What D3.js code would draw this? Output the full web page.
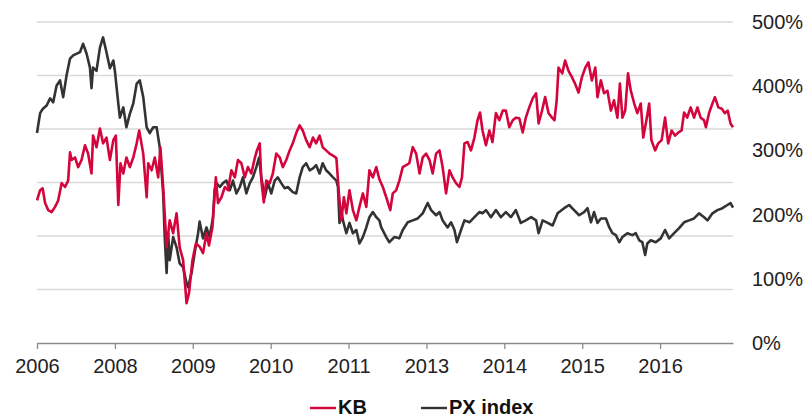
<!DOCTYPE html>
<html>
<head>
<meta charset="utf-8">
<script src="https://cdn.jsdelivr.net/npm/d3@7"></script>
<style>
    body { margin: 0; background: #fff; }
    svg { display: block; font-family: "Liberation Sans", Arial, sans-serif; }
    .tickLabel { font-size: 20px; fill: #222; }
    .keyLabel { font-size: 20px; font-weight: bold; fill: #111; }
</style>
</head>
<body>
<div id="chart"></div>
<script>

// trading day index -> performance in %
const kb = [
    [0,222],[10,238],[18,241],[26,218],[36,207],[47,204],[58,212],[68,222],[79,249],[90,243],
    [100,253],[106,297],[111,285],[122,289],[132,274],[143,285],[154,308],[164,295],[175,264],[180,323],
    [191,305],[202,334],[212,311],[223,320],[234,285],[245,316],[253,323],[261,215],[268,280],[277,264],
    [287,289],[298,274],[309,289],[320,311],[328,331],[341,295],[352,227],[357,280],[368,269],[378,289],
    [389,258],[396,305],[405,243],[416,149],[426,191],[437,171],[448,202],[458,149],[469,129],[480,62],
    [488,78],[499,129],[510,155],[522,150],[533,140],[544,171],[552,152],[563,180],[574,258],[581,218],
    [592,227],[603,243],[613,238],[624,269],[635,258],[645,285],[656,280],[667,258],[677,274],[688,264],
    [699,288],[706,300],[715,311],[720,253],[728,219],[736,253],[747,249],[757,264],[768,295],[779,289],
    [789,274],[800,285],[811,300],[821,311],[832,327],[843,339],[853,331],[864,316],[875,305],[886,320],
    [896,311],[907,323],[917,305],[928,300],[939,295],[950,292],[961,288],[969,233],[977,191],[985,227],
    [993,202],[1003,238],[1014,207],[1025,191],[1035,212],[1046,233],[1057,212],[1067,269],[1078,258],[1089,274],
    [1099,255],[1110,243],[1121,227],[1134,207],[1142,233],[1153,238],[1163,253],[1174,274],[1185,277],[1195,280],
    [1206,305],[1217,295],[1228,264],[1238,289],[1249,295],[1260,285],[1270,264],[1281,295],[1292,300],[1302,274],
    [1313,233],[1324,269],[1334,258],[1345,249],[1356,243],[1364,258],[1372,311],[1382,313],[1393,300],[1404,320],
    [1414,347],[1422,359],[1430,331],[1441,308],[1452,331],[1462,313],[1473,358],[1484,347],[1495,362],[1505,362],
    [1516,336],[1527,347],[1537,351],[1548,350],[1559,328],[1569,351],[1580,367],[1591,381],[1602,389],[1610,342],
    [1621,362],[1631,383],[1642,358],[1653,351],[1661,347],[1668,378],[1674,429],[1686,420],[1695,440],[1706,424],
    [1717,414],[1727,404],[1738,390],[1749,414],[1760,429],[1770,437],[1781,409],[1792,429],[1799,383],[1810,409],
    [1820,389],[1831,393],[1842,362],[1852,378],[1863,351],[1871,404],[1879,351],[1888,362],[1897,420],[1906,393],
    [1917,373],[1927,358],[1938,373],[1946,320],[1956,347],[1965,373],[1972,316],[1984,300],[1994,311],[2005,316],
    [2016,351],[2026,311],[2037,331],[2048,323],[2059,328],[2069,331],[2077,359],[2087,351],[2098,367],[2109,351],
    [2120,367],[2130,351],[2141,347],[2147,336],[2157,358],[2168,373],[2176,383],[2187,367],[2198,365],[2208,358],
    [2217,362],[2226,342],[2234,336]
]

const px = [
    [0,327],[10,358],[19,365],[31,370],[42,381],[52,375],[63,401],[74,409],[84,383],[95,417],
    [106,443],[116,448],[138,453],[148,466],[159,451],[170,429],[175,397],[180,429],[191,424],[202,460],
    [212,476],[223,453],[234,428],[245,440],[250,424],[261,373],[266,351],[277,367],[287,336],[298,357],
    [309,373],[320,404],[330,409],[341,383],[352,336],[362,327],[373,336],[384,336],[394,305],[405,233],
    [410,165],[416,109],[421,171],[426,129],[437,165],[448,149],[458,124],[469,118],[480,93],[485,87],
    [496,109],[506,140],[517,171],[522,189],[533,163],[544,180],[554,165],[565,196],[570,238],[576,249],
    [587,243],[597,249],[608,253],[619,238],[629,253],[640,233],[651,243],[661,258],[672,233],[683,249],
    [693,258],[704,274],[713,289],[720,258],[731,227],[741,249],[752,233],[763,253],[773,258],[784,249],
    [795,241],[805,243],[821,235],[832,233],[843,258],[853,274],[864,280],[875,269],[886,272],[896,277],
    [907,264],[917,280],[928,269],[939,264],[950,258],[961,253],[966,243],[971,187],[977,207],[982,191],
    [993,171],[1003,187],[1014,171],[1025,176],[1035,155],[1046,165],[1057,180],[1067,196],[1078,204],[1089,196],
    [1099,191],[1105,180],[1121,165],[1131,157],[1147,165],[1163,163],[1174,176],[1190,188],[1206,191],[1222,194],
    [1238,202],[1254,218],[1265,207],[1281,199],[1292,204],[1302,191],[1318,180],[1329,188],[1340,176],[1348,157],
    [1361,176],[1372,191],[1388,188],[1404,196],[1420,204],[1430,202],[1441,207],[1457,196],[1473,207],[1489,196],
    [1505,204],[1521,196],[1537,207],[1553,187],[1569,191],[1586,196],[1602,191],[1610,171],[1623,191],[1639,187],
    [1655,183],[1671,202],[1692,210],[1708,215],[1724,207],[1740,199],[1756,204],[1767,210],[1778,188],[1788,204],
    [1799,187],[1810,194],[1826,194],[1837,180],[1847,171],[1858,168],[1869,157],[1879,165],[1895,171],[1911,168],
    [1922,171],[1933,160],[1943,157],[1952,137],[1959,155],[1970,160],[1986,157],[2002,163],[2016,176],[2029,163],
    [2045,171],[2061,179],[2077,188],[2093,191],[2109,194],[2125,202],[2141,196],[2152,191],[2168,202],[2184,207],
    [2200,210],[2216,215],[2226,218],[2234,211]
]

const tickDays = [0, 250, 500, 750, 1000, 1250, 1500, 1750, 2000]
const tickLabels = ["2006", "2008", "2009", "2010", "2011", "2013", "2014", "2015", "2016"]
const yTicks = [0, 100, 200, 300, 400, 500]
const gridTicks = [1, 2, 3, 4, 5, 6]

const series = [
    { name: "KB", values: kb, colour: "#d4053c" },
    { name: "PX index", values: px, colour: "#333333" }
]

const width = 806
const height = 418
const margin = { top: 22, right: 73, bottom: 75, left: 37 }

const svg = d3.select("#chart").append("svg")
    .attr("width", width)
    .attr("height", height)

const x = d3.scaleLinear()
    .domain([0, 2234])
    .range([margin.left, width - margin.right])

const y = d3.scaleLinear()
    .domain([0, 500])
    .range([height - margin.bottom, margin.top])

// gridlines come from the hidden left axis, not the % labels
const yGrid = d3.scaleLinear()
    .domain([0, 6])
    .range([height - margin.bottom, margin.top])

svg.append("g")
    .selectAll("line")
    .data(gridTicks)
    .join("line")
    .attr("x1", margin.left)
    .attr("x2", width - margin.right)
    .attr("y1", d => yGrid(d))
    .attr("y2", d => yGrid(d))
    .attr("stroke", "#d9d9d9")
    .attr("stroke-width", 1.3)

const xAxis = svg.append("g")
    .attr("transform", `translate(0,${height - margin.bottom})`)
    .call(d3.axisBottom(x)
        .tickValues(tickDays)
        .tickFormat((d, i) => tickLabels[i])
        .tickSize(6)
        .tickSizeOuter(0)
        .tickPadding(10))

xAxis.select(".domain").attr("stroke", "#8c8c8c").attr("stroke-width", 1.3)
xAxis.selectAll(".tick line").attr("stroke", "#8c8c8c").attr("stroke-width", 1.3)
xAxis.selectAll(".tick text")
    .attr("class", "tickLabel")
    .attr("font-family", null)
    .attr("font-size", null)
    .attr("fill", null)

const yAxis = svg.append("g")
    .attr("transform", `translate(${width - margin.right + 19},0)`)
    .call(d3.axisRight(y)
        .tickValues(yTicks)
        .tickFormat(d => d + "%")
        .tickSize(0)
        .tickPadding(0))

yAxis.select(".domain").remove()
yAxis.selectAll(".tick text")
    .attr("class", "tickLabel")
    .attr("font-family", null)
    .attr("font-size", null)
    .attr("fill", null)

const line = d3.line()
    .x(d => x(d[0]))
    .y(d => y(d[1]))

// PX first so KB sits on top where they cross
svg.append("g")
    .selectAll("path")
    .data(series.slice().reverse())
    .join("path")
    .attr("d", d => line(d.values))
    .attr("fill", "none")
    .attr("stroke", d => d.colour)
    .attr("stroke-width", 2.6)
    .attr("stroke-linejoin", "round")

const keyPos = [310, 421]

const key = svg.append("g")
    .selectAll("g")
    .data(series)
    .join("g")
    .attr("transform", (d, i) => `translate(${keyPos[i]},408)`)

key.append("line")
    .attr("x1", 0)
    .attr("x2", 26)
    .attr("stroke", d => d.colour)
    .attr("stroke-width", 2.4)

key.append("text")
    .attr("class", "keyLabel")
    .attr("x", 28)
    .attr("y", 6)
    .text(d => d.name)

</script>
</body>
</html>
